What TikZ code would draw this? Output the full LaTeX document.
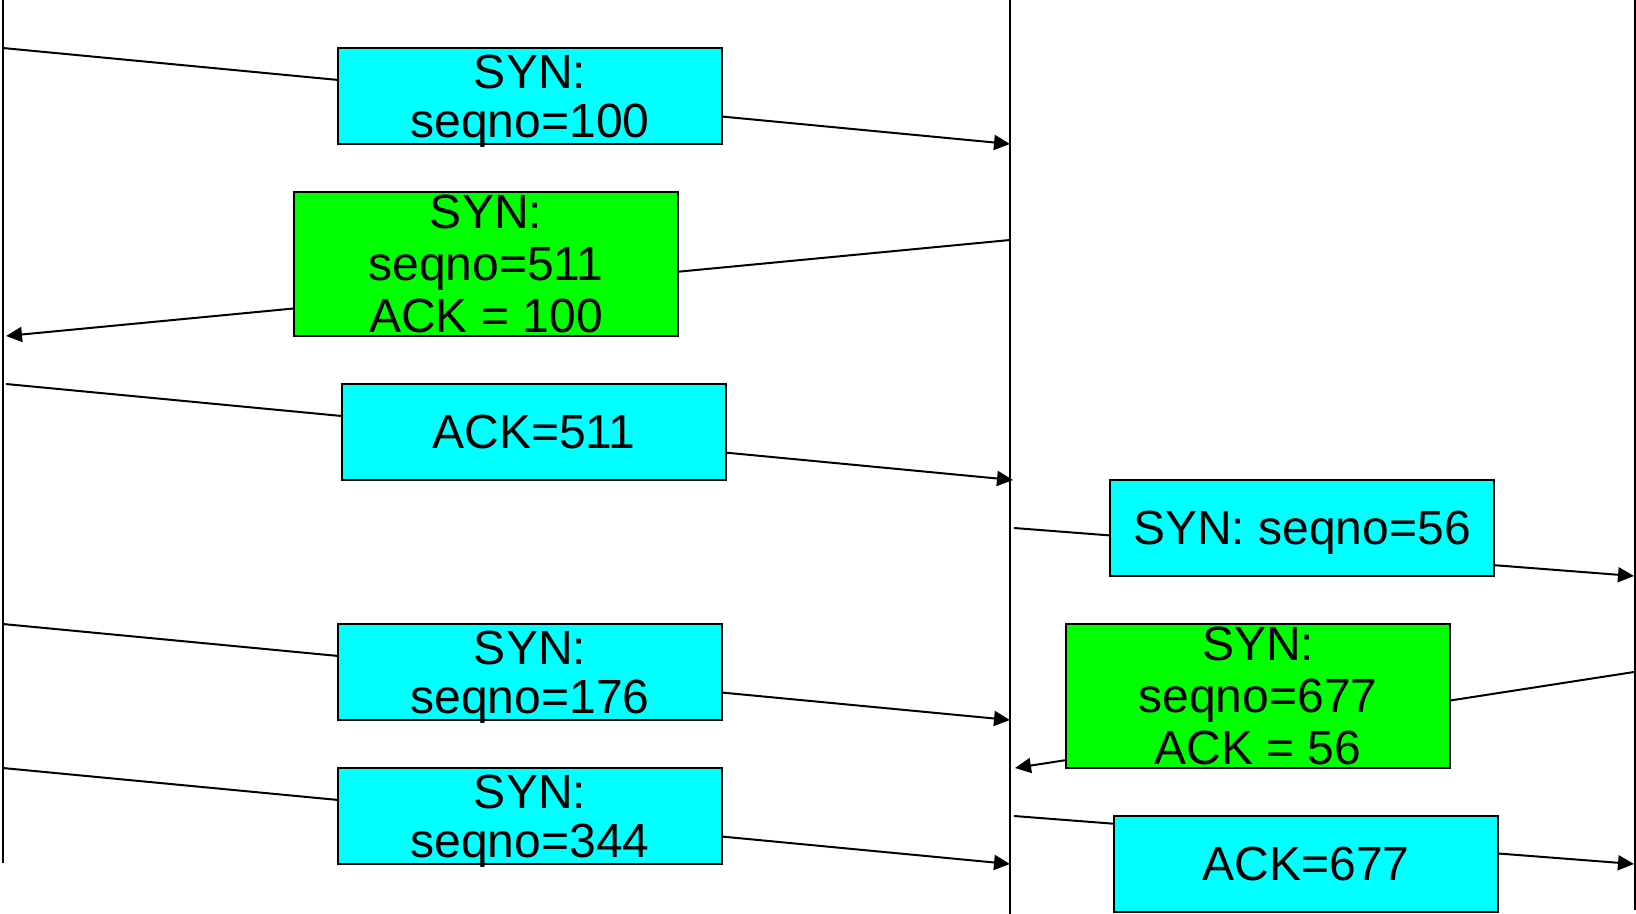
\documentclass[tikz,border=0pt]{standalone}
\usepackage{fontspec}
\setmainfont{Liberation Sans}
\usetikzlibrary{arrows.meta}
\definecolor{cy}{HTML}{00FFFF}
\definecolor{gr}{HTML}{00FF00}
\begin{document}
\begin{tikzpicture}[x=0.5pt,y=-0.5pt,
  lifeline/.style={line width=1pt},
  msg/.style={line width=1pt,-{Triangle[length=8pt,width=7.5pt]}},
  cybox/.style={draw,line width=0.9pt,fill=cy,minimum width=192pt,minimum height=48pt,inner sep=0pt,align=center,text depth=0pt,font=\fontsize{24}{24.5}\selectfont},
  grbox/.style={draw,line width=0.9pt,fill=gr,minimum width=192pt,minimum height=72pt,inner sep=0pt,align=center,font=\fontsize{24}{26}\selectfont}]
\useasboundingbox (0,0) rectangle (1636,914);
% lifelines
\coordinate (At) at (2.7,0);    \coordinate (Ab) at (2.7,863);
\coordinate (Bt) at (1010,0);   \coordinate (Bb) at (1010,914);
\coordinate (Ct) at (1634.5,0); \coordinate (Cb) at (1634.5,910);
\draw[lifeline] (At) -- (Ab);
\draw[lifeline] (Bt) -- (Bb);
\draw[lifeline] (Ct) -- (Cb);
% message end points
\coordinate (m1s) at (2.7,48);   \coordinate (m1e) at (1010,144);
\coordinate (m2s) at (1010,240); \coordinate (m2e) at (6,336);
\coordinate (m3s) at (6,384);    \coordinate (m3e) at (1013,480);
\coordinate (m4s) at (1014,528); \coordinate (m4e) at (1634,576);
\coordinate (m5s) at (2.7,624);  \coordinate (m5e) at (1010,720);
\coordinate (m6s) at (1634,672); \coordinate (m6e) at (1015,768);
\coordinate (m7s) at (2.7,768);  \coordinate (m7e) at (1010,864);
\coordinate (m8s) at (1014,816); \coordinate (m8e) at (1634,864);
\draw[msg] (m1s) -- (m1e);
\draw[msg] (m2s) -- (m2e);
\draw[msg] (m3s) -- (m3e);
\draw[msg] (m4s) -- (m4e);
\draw[msg] (m5s) -- (m5e);
\draw[msg] (m6s) -- (m6e);
\draw[msg] (m7s) -- (m7e);
\draw[msg] (m8s) -- (m8e);
% boxes
\node[cybox] (b1) at (530,96) {SYN:\\seqno=100};
\node[grbox] (b2) at (486,264) {SYN:\\seqno=511\\ACK = 100};
\node[cybox] (b3) at (534,432) {ACK=511};
\node[cybox] (b4) at (1302,528) {SYN: seqno=56};
\node[cybox] (b5) at (530,672) {SYN:\\seqno=176};
\node[grbox] (b6) at (1258,696) {SYN:\\seqno=677\\ACK = 56};
\node[cybox] (b7) at (530,816) {SYN:\\seqno=344};
\node[cybox] (b8) at (1306,864) {ACK=677};
\end{tikzpicture}
\end{document}
